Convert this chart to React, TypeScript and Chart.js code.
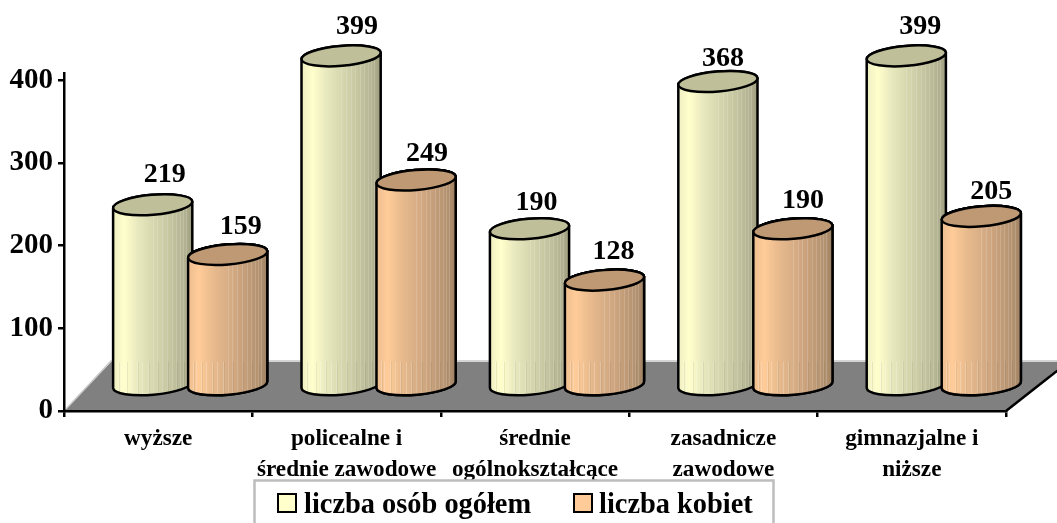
import React, { useEffect, useRef } from "react";
import { Chart, BarController, BarElement, CategoryScale, LinearScale } from "chart.js";

const categories = [
  ["wyższe"],
  ["policealne i", "średnie zawodowe"],
  ["średnie", "ogólnokształcące"],
  ["zasadnicze", "zawodowe"],
  ["gimnazjalne i", "niższe"],
];
const totalLabel = "liczba osób ogółem";
const womenLabel = "liczba kobiet";
const totalValues = [219, 399, 190, 368, 399];
const womenValues = [159, 249, 128, 190, 205];
const tickValues = [0, 100, 200, 300, 400];

const SERIF = '"Liberation Serif", "Times New Roman", serif';
const DX = 32;
const DY = -25;
// Nudges of the value labels, which the reference places unevenly.
const LABEL_NUDGE: [number, number][][] = [
  [[12, -30], [16, -29], [7, -26], [5, -23], [14, -29]],
  [[13, -28], [11, -26], [9, -28], [10, -28], [10, -25]],
];
const GREEN_STOPS: [number, string][] = [
  [0, "#eeeec2"], [0.14, "#ffffcc"], [0.3, "#eaeac0"], [0.5, "#d8d8b0"], [0.75, "#c2c29e"], [0.92, "#b0b090"], [1, "#9c9c7e"],
];
const ORANGE_STOPS: [number, string][] = [
  [0, "#eebe90"], [0.14, "#ffcc99"], [0.3, "#eabc8e"], [0.5, "#d8ae86"], [0.75, "#c29c78"], [0.92, "#b0906e"], [1, "#9c8062"],
];
const STREAKS = [0.06, 0.1, 0.17, 0.23, 0.3, 0.37, 0.44, 0.5, 0.56, 0.62, 0.68, 0.74, 0.79, 0.84, 0.88, 0.92];

class CylinderElement extends BarElement {
  static id = "cylinder";
  static defaults = { ...BarElement.defaults };
  static defaultRoutes = BarElement.defaultRoutes;
  draw(ctx: CanvasRenderingContext2D) {
    const { x, y, base, width, options } = this as any;
    const rx = width / 2;
    const ry = 10;
    const rot = -0.085;
    const cos = Math.cos(rot);
    const sin = Math.sin(rot);
    const body = () => {
      ctx.beginPath();
      ctx.moveTo(x - rx * cos, y - rx * sin);
      ctx.lineTo(x - rx * cos, base - rx * sin);
      ctx.ellipse(x, base, rx, ry, rot, Math.PI, 0, true);
      ctx.lineTo(x + rx * cos, y + rx * sin);
      ctx.ellipse(x, y, rx, ry, rot, 0, Math.PI, true);
      ctx.closePath();
    };
    const stops = options.backgroundColor === "#ffffcc" ? GREEN_STOPS : ORANGE_STOPS;
    const g = ctx.createLinearGradient(x - rx, 0, x + rx, 0);
    stops.forEach(([p, c]) => g.addColorStop(p, c));
    ctx.save();
    body();
    ctx.fillStyle = g;
    ctx.fill();
    ctx.save();
    ctx.clip();
    const floorBack = base - 23;
    ctx.lineWidth = 1;
    STREAKS.forEach((f, i) => {
      const sx = Math.round(x - rx + f * width) + 0.5;
      ctx.strokeStyle = f > 0.45 ? "rgba(255,255,255,0.16)" : "rgba(255,255,255,0.22)";
      ctx.beginPath();
      ctx.moveTo(sx, f > 0.45 ? y : floorBack);
      ctx.lineTo(sx, base + ry);
      ctx.stroke();
      if (i % 2 === 0) {
        ctx.strokeStyle = "rgba(90,90,60,0.10)";
        ctx.beginPath();
        ctx.moveTo(sx + 1, floorBack);
        ctx.lineTo(sx + 1, base + ry);
        ctx.stroke();
      }
    });
    ctx.restore();
    body();
    ctx.strokeStyle = "#000";
    ctx.lineWidth = 2.5;
    ctx.stroke();
    ctx.beginPath();
    ctx.ellipse(x, y, rx, ry, rot, 0, Math.PI * 2);
    ctx.fillStyle = options.backgroundColor === "#ffffcc" ? "#bfbf99" : "#bf9973";
    ctx.fill();
    ctx.stroke();
    ctx.restore();
  }
}

class CylinderController extends BarController {
  static id = "cylinderBar";
  static defaults = { ...BarController.defaults, dataElementType: "cylinder" };
  static overrides = BarController.overrides;
}

Chart.register(CategoryScale, LinearScale, BarElement, BarController, CylinderElement as any, CylinderController as any);

const depthPlugin = {
  id: "depth",
  beforeDraw(chart: any) {
    const { ctx, chartArea } = chart;
    const { left, right, bottom } = chartArea;
    const backY = bottom - 49;
    ctx.save();
    ctx.fillStyle = "#808080";
    ctx.beginPath();
    ctx.moveTo(left, bottom);
    ctx.lineTo(left + 47, backY);
    ctx.lineTo(right + 60, backY);
    ctx.lineTo(right, bottom);
    ctx.closePath();
    ctx.fill();
    ctx.strokeStyle = "#c8c8c8";
    ctx.lineWidth = 1.5;
    ctx.beginPath();
    ctx.moveTo(left + 2, bottom - 2);
    ctx.lineTo(left + 47, backY - 1);
    ctx.lineTo(1057, backY - 1);
    ctx.stroke();
    ctx.strokeStyle = "#000";
    ctx.lineWidth = 2.5;
    ctx.beginPath();
    ctx.moveTo(right, bottom);
    ctx.lineTo(right + 52, bottom - 41);
    ctx.stroke();
    ctx.restore();
  },
  beforeDatasetsDraw(chart: any) {
    chart.ctx.save();
    chart.ctx.translate(DX, DY);
  },
  afterDatasetsDraw(chart: any) {
    const ctx = chart.ctx;
    // Second series sits in front of the first one.
    chart.getDatasetMeta(1).controller.draw();
    ctx.restore();
    ctx.save();
    ctx.fillStyle = "#000";
    ctx.font = `bold 28px ${SERIF}`;
    ctx.textAlign = "center";
    ctx.textBaseline = "middle";
    chart.data.datasets.forEach((ds: any, i: number) => {
      chart.getDatasetMeta(i).data.forEach((el: any, j: number) => {
        const [nx, ny] = LABEL_NUDGE[i][j];
        ctx.fillText(String(ds.data[j]), el.x + DX + nx, el.y + DY + ny);
      });
    });
    ctx.restore();
  },
  afterDraw(chart: any) {
    const ctx = chart.ctx;
    ctx.save();
    ctx.strokeStyle = "#bdbdbd";
    ctx.lineWidth = 2.5;
    ctx.strokeRect(254.5, 480.5, 519, 60);
    ctx.font = `bold 28.4px ${SERIF}`;
    ctx.textBaseline = "middle";
    ctx.textAlign = "left";
    const items = [
      { box: 278, text: 304, ds: chart.data.datasets[0] },
      { box: 574, text: 599, ds: chart.data.datasets[1] },
    ];
    items.forEach(({ box, text, ds }) => {
      ctx.fillStyle = ds.backgroundColor;
      ctx.strokeStyle = "#000";
      ctx.lineWidth = 2;
      ctx.fillRect(box, 494, 18, 18);
      ctx.strokeRect(box, 494, 18, 18);
      ctx.fillStyle = "#000";
      ctx.fillText(ds.label, text, 506);
    });
    ctx.restore();
  },
};

export default function App() {
  const ref = useRef<HTMLCanvasElement>(null);
  useEffect(() => {
    const chart = new Chart(ref.current as HTMLCanvasElement, {
      type: "cylinderBar" as any,
      data: {
        labels: categories,
        datasets: [
          { label: totalLabel, data: totalValues, backgroundColor: "#ffffcc", clip: false },
          { label: womenLabel, data: womenValues, backgroundColor: "#ffcc99", clip: false },
        ] as any,
      },
      options: {
        animation: false,
        responsive: false,
        layout: { padding: { top: 73, right: 51, left: 0, bottom: 0 } },
        categoryPercentage: 0.796,
        barPercentage: 1.06,
        plugins: { legend: { display: false }, tooltip: { enabled: false } },
        scales: {
          x: {
            afterFit: (s: any) => { s.height = 112; },
            border: { color: "#000", width: 2.5 },
            grid: { drawOnChartArea: false, drawTicks: true, tickLength: 6, color: "#000", lineWidth: 2.5, offset: true },
            ticks: {
              color: "#000",
              padding: 6,
              maxRotation: 0,
              autoSkip: false,
              font: { family: SERIF, weight: "bold", size: 23.2, lineHeight: 1.34 },
            },
          },
          y: {
            min: 0,
            max: 408.5,
            afterFit: (s: any) => { s.width = 64; },
            afterBuildTicks: (s: any) => { s.ticks = tickValues.map((value) => ({ value })); },
            border: { color: "#000", width: 2.5 },
            grid: { drawOnChartArea: false, drawTicks: true, tickLength: 6, color: "#000", lineWidth: 2.5 },
            ticks: {
              color: "#000",
              padding: 5,
              font: { family: SERIF, weight: "bold", size: 29 },
            },
          },
        },
      } as any,
      plugins: [depthPlugin],
    });
    return () => chart.destroy();
  }, []);
  return (
    <div style={{ position: "fixed", left: 0, top: 0, width: 1057, height: 523, background: "#fff" }}>
      <canvas ref={ref} width={1057} height={523} style={{ display: "block" }} />
    </div>
  );
}
